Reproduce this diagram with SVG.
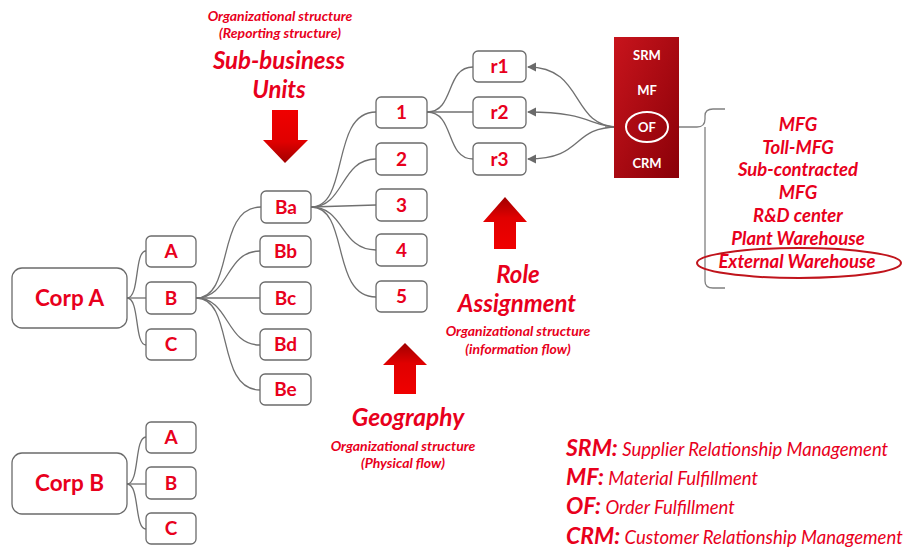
<svg xmlns="http://www.w3.org/2000/svg" width="917" height="551" viewBox="0 0 917 551">
<defs>
<linearGradient id="boxg" x1="0" y1="0" x2="1" y2="1">
<stop offset="0" stop-color="#c8141c"/>
<stop offset="1" stop-color="#8a0008"/>
</linearGradient>
<linearGradient id="arrD" x1="0" y1="0" x2="0" y2="1">
<stop offset="0" stop-color="#f00000"/>
<stop offset="0.6" stop-color="#e00000"/>
<stop offset="1" stop-color="#a00000"/>
</linearGradient>
<linearGradient id="arrU" x1="0" y1="1" x2="0" y2="0">
<stop offset="0" stop-color="#f00000"/>
<stop offset="0.6" stop-color="#e00000"/>
<stop offset="1" stop-color="#a00000"/>
</linearGradient>
<marker id="ah" viewBox="0 0 10 10" refX="9" refY="5" markerWidth="7" markerHeight="7" orient="auto">
<path d="M0,0 L10,5 L0,10 z" fill="#6a6a6a"/>
</marker>
<style>
.box{fill:#fff;stroke:#6b6b6b;stroke-width:1.3}
.lbl{font-family:"Lato","Liberation Sans",sans-serif;font-weight:bold;fill:#e8001c;text-anchor:middle}
.big{font-size:22.5px}
.sm{font-size:19px}
.c{fill:none;stroke:#707070;stroke-width:1.3}
.it{font-family:"Lato","Liberation Sans",sans-serif;font-style:italic;font-weight:bold;fill:#e8001c;text-anchor:middle}
.wt{font-family:"Lato","Liberation Sans",sans-serif;font-weight:bold;fill:#fff;text-anchor:middle;font-size:13px}
.leg{font-family:"Lato","Liberation Sans",sans-serif;font-style:italic;fill:#e8001c}
</style>
</defs>

<g id="connectors">
<path class="c" d="M127,298 C140,298 134,251 146,251"/>
<path class="c" d="M127,298 L146,298"/>
<path class="c" d="M127,298 C140,298 134,345 146,345"/>
<path class="c" d="M127,484 C140,484 134,437 146,437"/>
<path class="c" d="M127,484 L146,484"/>
<path class="c" d="M127,484 C140,484 134,529 146,529"/>
<path class="c" d="M196,298 C235,298 215,207 261,207"/>
<path class="c" d="M196,298 C230,298 225,251 260,251"/>
<path class="c" d="M196,298 L260,298"/>
<path class="c" d="M196,298 C230,298 225,345 260,345"/>
<path class="c" d="M196,298 C235,298 215,390 260,390"/>
<path class="c" d="M311,207 C350,207 330,112 376,112"/>
<path class="c" d="M311,207 C345,207 340,159 376,159"/>
<path class="c" d="M311,207 L376,205"/>
<path class="c" d="M311,207 C345,207 340,250 376,250"/>
<path class="c" d="M311,207 C350,207 330,297 376,297"/>
<path class="c" d="M427,112 C455,112 445,67 473,67"/>
<path class="c" d="M427,112 L473,112"/>
<path class="c" d="M427,112 C455,112 445,159 473,159"/>
<path class="c" marker-end="url(#ah)" d="M618,127 C570,127 585,67 528,67"/>
<path class="c" marker-end="url(#ah)" d="M618,127 C590,127 590,112 528,112"/>
<path class="c" marker-end="url(#ah)" d="M618,127 C570,127 585,159 528,159"/>
<path class="c" marker-end="url(#ah)" d="M605,127 L625,127"/>
</g>

<g id="corpA"><rect class="box" x="12" y="268" width="115" height="60" rx="10"/><text class="lbl big" x="69.5" y="306">Corp A</text></g>
<g id="corpA-A"><rect class="box" x="146" y="236" width="50" height="31" rx="5"/><text class="lbl sm" x="171" y="258">A</text></g>
<g id="corpA-B"><rect class="box" x="146" y="282" width="50" height="32" rx="5"/><text class="lbl sm" x="171" y="305">B</text></g>
<g id="corpA-C"><rect class="box" x="146" y="329" width="50" height="31" rx="5"/><text class="lbl sm" x="171" y="351">C</text></g>

<g id="Ba"><rect class="box" x="261" y="191" width="50" height="32" rx="5"/><text class="lbl sm" x="286" y="214">Ba</text></g>
<g id="Bb"><rect class="box" x="260" y="236" width="51" height="31" rx="5"/><text class="lbl sm" x="285.5" y="258">Bb</text></g>
<g id="Bc"><rect class="box" x="260" y="282" width="51" height="32" rx="5"/><text class="lbl sm" x="285.5" y="305">Bc</text></g>
<g id="Bd"><rect class="box" x="260" y="329" width="51" height="31" rx="5"/><text class="lbl sm" x="285.5" y="351">Bd</text></g>
<g id="Be"><rect class="box" x="260" y="374" width="51" height="31" rx="5"/><text class="lbl sm" x="285.5" y="396">Be</text></g>

<g id="n1"><rect class="box" x="376" y="97" width="51" height="31" rx="5"/><text class="lbl sm" x="401.5" y="119">1</text></g>
<g id="n2"><rect class="box" x="376" y="143" width="51" height="32" rx="5"/><text class="lbl sm" x="401.5" y="166">2</text></g>
<g id="n3"><rect class="box" x="376" y="189" width="51" height="32" rx="5"/><text class="lbl sm" x="401.5" y="212">3</text></g>
<g id="n4"><rect class="box" x="376" y="234" width="51" height="32" rx="5"/><text class="lbl sm" x="401.5" y="257">4</text></g>
<g id="n5"><rect class="box" x="376" y="281" width="51" height="31" rx="5"/><text class="lbl sm" x="401.5" y="303">5</text></g>

<g id="r1"><rect class="box" x="473" y="51" width="53" height="31" rx="5"/><text class="lbl sm" x="499.5" y="73">r1</text></g>
<g id="r2"><rect class="box" x="473" y="97" width="53" height="31" rx="5"/><text class="lbl sm" x="499.5" y="119">r2</text></g>
<g id="r3"><rect class="box" x="473" y="143" width="53" height="32" rx="5"/><text class="lbl sm" x="499.5" y="166">r3</text></g>

<g id="corpB"><rect class="box" x="12" y="453" width="115" height="61" rx="10"/><text class="lbl big" x="69.5" y="491">Corp B</text></g>
<g id="corpB-A"><rect class="box" x="146" y="422" width="50" height="31" rx="5"/><text class="lbl sm" x="171" y="444">A</text></g>
<g id="corpB-B"><rect class="box" x="146" y="467" width="50" height="32" rx="5"/><text class="lbl sm" x="171" y="490">B</text></g>
<g id="corpB-C"><rect class="box" x="146" y="513" width="50" height="31" rx="5"/><text class="lbl sm" x="171" y="535">C</text></g>

<g id="functions">
<rect x="614" y="37" width="65" height="141" fill="url(#boxg)"/>
<text class="wt" x="647" y="60">SRM</text>
<text class="wt" x="647" y="95">MF</text>
<ellipse cx="647" cy="127" rx="21" ry="15" fill="none" stroke="#fff" stroke-width="2"/>
<text class="wt" x="647" y="132">OF</text>
<text class="wt" x="647" y="168">CRM</text>
</g>

<g id="bracket">
<path fill="none" stroke="#808080" stroke-width="1.3" d="M679,127 H697 Q705,127 705,119 V116 Q705,109 713,109 H725 M705,127 V281 Q705,288 713,288 H725"/>
</g>

<g id="of-list">
<text class="it" font-size="18.5" x="798" y="131">MFG</text>
<text class="it" font-size="18.5" x="798" y="154">Toll-MFG</text>
<text class="it" font-size="18.5" x="798" y="176">Sub-contracted</text>
<text class="it" font-size="18.5" x="798" y="199">MFG</text>
<text class="it" font-size="18.5" x="798" y="222">R&amp;D center</text>
<text class="it" font-size="18.5" x="798" y="245">Plant Warehouse</text>
<text class="it" font-size="18.5" x="797" y="268">External Warehouse</text>
<ellipse cx="799" cy="263" rx="102" ry="15" fill="none" stroke="#c0141c" stroke-width="2"/>
</g>

<g id="sbu-label">
<text class="it" font-size="14" x="280" y="21">Organizational structure</text>
<text class="it" font-size="14" x="280" y="38">(Reporting structure)</text>
<text class="it" font-size="24" x="279" y="69">Sub-business</text>
<text class="it" font-size="24" x="279" y="98">Units</text>
<path d="M272,110 H298 V140 H308 L285,163 L263,140 H272 Z" fill="url(#arrD)"/>
</g>

<g id="role-label">
<path d="M483,222 L505,197 L527,222 H516 V249 H494 V222 Z" fill="url(#arrU)"/>
<text class="it" font-size="24" x="518" y="283">Role</text>
<text class="it" font-size="24" x="517" y="312">Assignment</text>
<text class="it" font-size="14" x="518" y="336">Organizational structure</text>
<text class="it" font-size="14" x="518" y="354">(information flow)</text>
</g>

<g id="geo-label">
<path d="M383,365 L405,343 L427,365 H416 V394 H394 V365 Z" fill="url(#arrU)"/>
<text class="it" font-size="24.5" x="408" y="426">Geography</text>
<text class="it" font-size="14" x="403" y="451">Organizational structure</text>
<text class="it" font-size="14" x="403" y="468">(Physical flow)</text>
</g>

<g id="legend">
<text class="leg" x="566" y="456"><tspan font-weight="bold" font-size="23">SRM:</tspan><tspan font-size="18.5"> Supplier Relationship Management</tspan></text>
<text class="leg" x="566" y="485"><tspan font-weight="bold" font-size="23">MF:</tspan><tspan font-size="18.5"> Material Fulfillment</tspan></text>
<text class="leg" x="566" y="514"><tspan font-weight="bold" font-size="23">OF:</tspan><tspan font-size="18.5"> Order Fulfillment</tspan></text>
<text class="leg" x="566" y="544"><tspan font-weight="bold" font-size="23">CRM:</tspan><tspan font-size="18.5"> Customer Relationship Management</tspan></text>
</g>
</svg>
